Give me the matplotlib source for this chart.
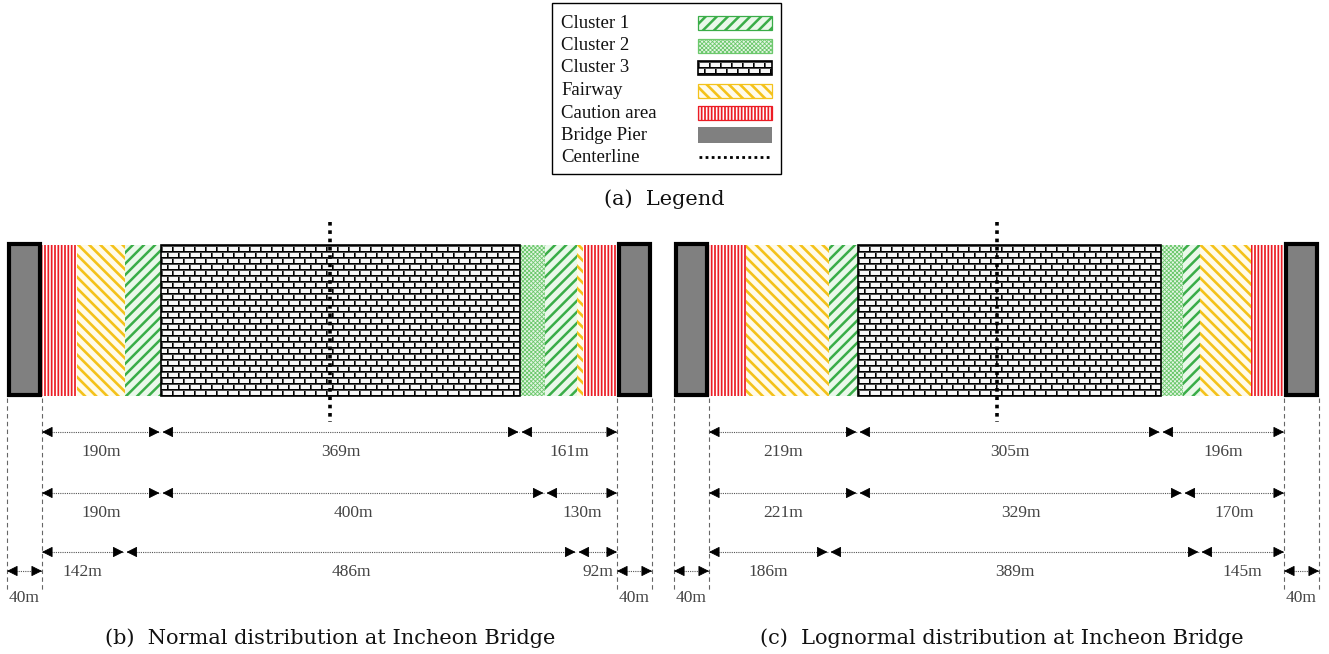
import numpy as np
import matplotlib
matplotlib.use("Agg")
import matplotlib as mpl
import matplotlib.pyplot as plt
from matplotlib.patches import Rectangle

# ---------------------------------------------------------------- data
# zones across the navigable channel, from the left pier to the right pier
zone_kinds = ["Caution area", "Fairway", "Cluster 1", "Cluster 3",
              "Cluster 2", "Cluster 1", "Fairway", "Caution area"]
# schematic widths of each zone (drawing units, not to scale)
normal_widths = [35, 48, 36, 359, 25, 32, 6, 34]
lognormal_widths = [37, 83, 29, 303, 22, 17, 51, 33]

# dimension rows (metres) and the zone boundaries each row spans
normal_dims = [[190, 369, 161], [190, 400, 130], [142, 486, 92]]
lognormal_dims = [[219, 305, 196], [221, 329, 170], [186, 389, 145]]
dim_breaks = [(3, 4), (3, 5), (2, 6)]
pier_width_m = 40

legend_labels = ["Cluster 1", "Cluster 2", "Cluster 3", "Fairway",
                 "Caution area", "Bridge Pier", "Centerline"]
captions = ["(a)  Legend",
            "(b)  Normal distribution at Incheon Bridge",
            "(c)  Lognormal distribution at Incheon Bridge"]

# ---------------------------------------------------------------- style
W, H = 1329, 654
SERIF = ["Liberation Serif", "DejaVu Serif"]
CAP_FONT = ["DejaVu Serif"]

zone_style = {
    "Cluster 1": dict(face="#eaf8ea", hatch="///", hcolor="#3aad48", hlw=1.8),
    "Cluster 2": dict(face="#e4f6e4", hatch="xxxxxxxx", hcolor="#6cc86c", hlw=0.6),
    "Fairway": dict(face="#fffbea", hatch="\\\\\\", hcolor="#f4c21b", hlw=1.9),
    "Caution area": dict(face="white", hatch="|||||", hcolor="#ec1c24", hlw=1.25),
}

channel_left = [42, 709]
pier_w = 35
zone_top, zone_bot = 245, 396
dim_rows_y = [432, 493, 552]
pier_dim_y = 571


def brick_texture(h, w, row=6, brick=11):
    """White bricks with dark mortar, one texel per pixel."""
    yy, xx = np.mgrid[0:h, 0:w]
    r = yy // row
    ry = yy % row
    shift = (r % 2) * (brick // 2)
    rx = (xx + shift) % brick
    img = np.full((h, w), 0.97)
    img[rx == 1] = 0.35
    img[rx == 0] = 0.0
    img[ry == 1] = 0.3
    img[ry == 0] = 0.0
    return np.dstack([img, img, img])


def hatched_rect(ax, x, y, w, h, kind, z=2):
    st = zone_style[kind]
    ax.add_patch(Rectangle((x, y), w, h, facecolor=st["face"],
                           edgecolor="none", lw=0, zorder=z))
    with mpl.rc_context({"hatch.linewidth": st["hlw"]}):
        p = Rectangle((x, y), w, h, facecolor="none", edgecolor=st["hcolor"],
                      hatch=st["hatch"], lw=0, zorder=z + 0.1)
    if hasattr(p, "set_hatch_linewidth"):
        p.set_hatch_linewidth(st["hlw"])
    ax.add_patch(p)


def brick_rect(ax, x, y, w, h, z=2):
    tex = brick_texture(int(round(h)), int(round(w)))
    ax.imshow(tex, extent=(x, x + w, y + h, y), interpolation="nearest",
              aspect="auto", zorder=z)
    ax.add_patch(Rectangle((x, y), w, h, facecolor="none",
                           edgecolor="black", lw=1.2, zorder=z + 0.2))


def zone_rect(ax, x, y, w, h, kind):
    if kind == "Cluster 3":
        brick_rect(ax, x, y, w, h)
    else:
        hatched_rect(ax, x, y, w, h, kind)


def pier(ax, x, y0, y1):
    ax.add_patch(Rectangle((x + 2, y0 + 2), pier_w - 4, (y1 - y0) - 4,
                           facecolor="#808080", edgecolor="black", lw=3,
                           zorder=3))


def dim_arrow(ax, xa, xb, y, label, ly):
    ax.plot([xa, xb], [y, y], color="#555555", lw=0.8,
            ls=(0, (1, 1)), zorder=2)
    for tip, tail in ((xa, xa + 6), (xb, xb - 6)):
        ax.annotate("", xy=(tip, y), xytext=(tail, y),
                    arrowprops=dict(arrowstyle="-|>,head_length=0.6,head_width=0.3",
                                    color="black", lw=0.6, shrinkA=0,
                                    shrinkB=0, mutation_scale=11))
    ax.text((xa + xb) / 2, ly, label, ha="center", va="center",
            fontsize=12.5, color="#444444", family=SERIF)


fig = plt.figure(figsize=(W / 100, H / 100), dpi=100)
ax = fig.add_axes([0, 0, 1, 1])

# ---------------------------------------------------------------- panels
for x0, widths, dims in ((channel_left[0], normal_widths, normal_dims),
                         (channel_left[1], lognormal_widths, lognormal_dims)):
    bounds = x0 + np.concatenate([[0], np.cumsum(widths)])
    for kind, xa, xb in zip(zone_kinds, bounds[:-1], bounds[1:]):
        zone_rect(ax, xa, zone_top, xb - xa, zone_bot - zone_top, kind)
    x_end = bounds[-1]
    pier(ax, x0 - pier_w, zone_top - 3, zone_bot + 1)
    pier(ax, x_end, zone_top - 3, zone_bot + 1)

    # centreline of the channel
    xc = (x0 + x_end) / 2
    ax.plot([xc, xc], [222, 422], color="black", lw=2.6,
            ls=(0, (1, 1.3)), solid_capstyle="butt", dash_capstyle="butt",
            zorder=5)

    # extension lines at the pier faces
    for xe in (x0 - pier_w, x0, x_end, x_end + pier_w):
        ax.plot([xe, xe], [398, 592], color="#666666", lw=0.8,
                ls=(0, (4, 3)), zorder=1)

    # dimension rows
    for (ia, ib), vals, y in zip(dim_breaks, dims, dim_rows_y):
        pts = [x0, bounds[ia], bounds[ib], x_end]
        for k, v in enumerate(vals):
            xa = pts[k] + (1.5 if k > 0 else 0)
            xb = pts[k + 1] - (1.5 if k < 2 else 0)
            dim_arrow(ax, xa, xb, y, f"{v}m", y + 20)

    # pier widths
    for xa in (x0 - pier_w, x_end):
        dim_arrow(ax, xa, xa + pier_w, pier_dim_y, "", 0)
        ax.text(xa + pier_w / 2, 598, f"{pier_width_m}m", ha="center",
                va="center", fontsize=12.5, color="#444444", family=SERIF)

# ---------------------------------------------------------------- legend
ax.add_patch(Rectangle((552, 3), 229, 171, facecolor="white",
                       edgecolor="black", lw=1.0, zorder=1))
row_y = [23, 45.5, 68, 90.5, 113, 135, 157]
sw_x, sw_w, sw_h = 698, 74, 14
for lab, y in zip(legend_labels, row_y):
    ax.text(561, y, lab, ha="left", va="center", fontsize=13.5,
            color="#111111", family=SERIF)
    if lab in zone_style:
        hatched_rect(ax, sw_x, y - sw_h / 2, sw_w, sw_h, lab)
        ax.add_patch(Rectangle((sw_x, y - sw_h / 2), sw_w, sw_h,
                               facecolor="none",
                               edgecolor=zone_style[lab]["hcolor"],
                               lw=0.9, zorder=3))
    elif lab == "Cluster 3":
        brick_rect(ax, sw_x, y - sw_h / 2, sw_w, sw_h)
    elif lab == "Bridge Pier":
        ax.add_patch(Rectangle((sw_x, y - 8), sw_w, 16, facecolor="#808080",
                               edgecolor="none", zorder=2))
    else:
        ax.plot([sw_x + 1, sw_x + sw_w - 1], [y, y], color="black", lw=2.0,
                ls=(0, (1, 1.2)), dash_capstyle="butt", zorder=2)

# ---------------------------------------------------------------- captions
ax.text(664, 199, captions[0], ha="center", va="center", fontsize=15,
        family=CAP_FONT, color="#111111")
ax.text(330, 638, captions[1], ha="center", va="center", fontsize=15,
        family=CAP_FONT, color="#111111")
ax.text(1002, 638, captions[2], ha="center", va="center", fontsize=15,
        family=CAP_FONT, color="#111111")

ax.set_xlim(0, W)
ax.set_ylim(H, 0)
ax.set_aspect("auto")
ax.axis("off")
fig.savefig("out.png", dpi=100)
